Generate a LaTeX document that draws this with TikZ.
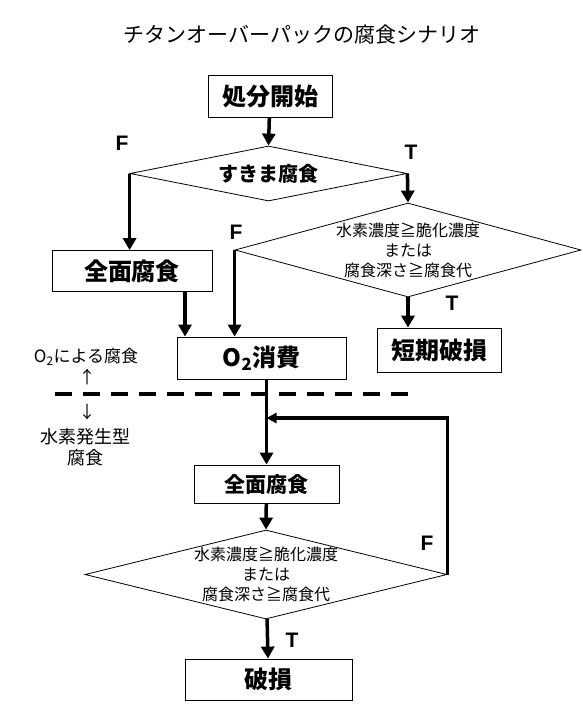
\documentclass[tikz,border=0pt]{standalone}
\usepackage{fontspec}
\setmainfont{Liberation Sans}
\newfontfamily\jp{Noto Sans CJK JP}
\usetikzlibrary{shapes.geometric,arrows.meta}
\begin{document}
\begin{tikzpicture}[x=1pt, y=-1pt,
		box/.style = {draw, line width=0.8pt, inner sep=0pt, font=\jp\bfseries\fontsize{24}{24}\selectfont},
		dia/.style = {draw, diamond, line width=0.8pt, inner sep=0pt},
		dlab/.style = {align=center, inner sep=0pt, font=\jp\fontsize{16}{20}\selectfont},
		flow/.style = {line width=3.5pt, -{Triangle[width=13pt,length=12pt]}},
		tf/.style = {font=\bfseries\fontsize{21}{21}\selectfont},
	]
	\path[use as bounding box] (0,0) rectangle (582,724);
	\node[font=\jp\fontsize{21}{21}\selectfont] (title) at (302,35) {チタンオーバーパックの腐食シナリオ};
	% upper part
	\node[box, minimum width=124pt, minimum height=42pt] (start) at (270,96) {処分開始};
	\node[dia, minimum width=277pt, minimum height=55pt,
		label={[font=\jp\bfseries\fontsize{20}{20}\selectfont]center:すきま腐食}] (crev) at (268.5,173.5) {};
	\node[dia, minimum width=346pt, minimum height=94pt,
		label={[dlab]center:{水素濃度≧脆化濃度\\または\\腐食深さ≧腐食代}}] (judge1) at (408,250) {};
	\node[box, minimum width=160pt, minimum height=41pt] (gen1) at (132,271) {全面腐食};
	\node[box, minimum width=169pt, minimum height=42pt] (otwo) at (261.5,358) {O\textsubscript{2}消費};
	\node[box, minimum width=124pt, minimum height=44pt] (early) at (439,350) {短期破損};
	% lower part
	\node[box, minimum width=145pt, minimum height=38pt, font=\jp\bfseries\fontsize{21}{21}\selectfont] (gen2) at (266.5,484) {全面腐食};
	\node[dia, minimum width=362pt, minimum height=89pt,
		label={[dlab]center:{水素濃度≧脆化濃度\\または\\腐食深さ≧腐食代}}] (judge2) at (266,574.5) {};
	\node[box, minimum width=167pt, minimum height=41pt] (fail) at (268.5,679.5) {破損};
	% T/F labels
	\node[tf] (f1) at (122,143) {F};
	\node[tf] (t1) at (411,152) {T};
	\node[tf] (f2) at (236,232) {F};
	\node[tf] (t2) at (452,303) {T};
	\node[tf] (f3) at (427,543) {F};
	\node[tf] (t3) at (292,640) {T};
	% side notes
	\node[font=\jp\fontsize{17}{17}\selectfont] (oxy) at (86,357) {O\textsubscript{2}による腐食};
	\node[font=\jp\fontsize{17}{17}\selectfont] (up) at (87,377) {↑};
	\node[font=\jp\fontsize{17}{17}\selectfont] (down) at (87,412) {↓};
	\node[font=\jp\fontsize{18}{21}\selectfont, align=center] (hyd) at (86,447) {水素発生型\\腐食};
	\coordinate (dashl) at (55,394);
	\coordinate (dashr) at (408,394);
	\draw[line width=4.5pt, dash pattern=on 17pt off 11pt] (dashl) -- (dashr);
	% flow
	\draw[flow] (start) -- (crev.north);
	\draw[flow] (crev.west) -- (crev.west |- gen1.north);
	\draw[flow] (crev.east) -- (judge1.north);
	\draw[flow] ([xshift=53pt]gen1.south) -- ([xshift=53pt]gen1.south |- otwo.north);
	\draw[flow] (judge1.west) -- (judge1.west |- otwo.north);
	\draw[flow] (judge1.south) -- (judge1.south |- early.north);
	\draw[flow] (gen2.north |- otwo.south) -- (gen2.north);
	\draw[flow] (gen2) -- (judge2.north);
	\draw[flow] (judge2) -- (fail);
	\draw[line width=3.5pt, -{Triangle[width=10pt,length=10pt]}] (judge2.east) -- (judge2.east |- 0,418) -- (gen2.north |- 0,418);
\end{tikzpicture}
\end{document}
